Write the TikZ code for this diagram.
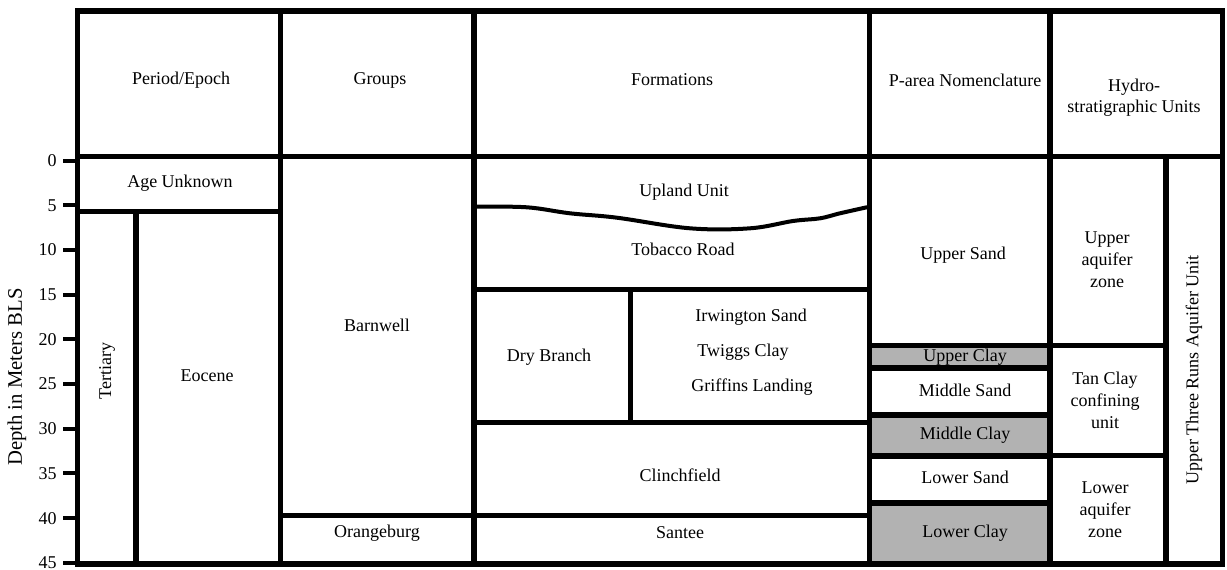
\documentclass[tikz,border=0pt]{standalone}
\usepackage{fontspec}
\setmainfont{Liberation Serif}
\definecolor{clay}{RGB}{178,178,178}
\tikzset{
  grid/.style={line width=3.8pt, line cap=butt},
  tick/.style={line width=3pt},
  lbl/.style={font=\fontsize{13.5pt}{16pt}\selectfont, inner sep=0pt, align=center},
  num/.style={font=\fontsize{13.5pt}{16pt}\selectfont, inner sep=0pt, anchor=east},
  wave/.style={line width=3pt, line cap=round, line join=round},
}
\begin{document}
\begin{tikzpicture}[x=0.75pt, y=-0.75pt]
\useasboundingbox (0,0) rectangle (1227,569);
% clay fills
\fill[clay] (869.5,345.5) rectangle (1050,368);
\fill[clay] (869.5,415) rectangle (1050,456);
\fill[clay] (869.5,503) rectangle (1050,564);
% outer frame
\draw[grid, line join=miter] (77.5,11) rectangle (1222.5,564);
% verticals
\draw[grid] (136,211.5) -- (136,564);
\draw[grid] (280.5,11) -- (280.5,564);
\draw[grid] (474,11) -- (474,564);
\draw[grid] (630.5,289.5) -- (630.5,422.5);
\draw[grid] (869.5,11) -- (869.5,564);
\draw[grid] (1050,11) -- (1050,564);
\draw[grid] (1166,156.5) -- (1166,564);
% horizontals
\draw[grid] (77.5,156.5) -- (1222.5,156.5);
\draw[grid] (77.5,211.5) -- (280.5,211.5);
\draw[grid] (474,289.5) -- (869.5,289.5);
\draw[grid] (474,422.5) -- (869.5,422.5);
\draw[grid] (280.5,515.5) -- (869.5,515.5);
\foreach \yy in {345.5,368,415,456,503}{\draw[grid] (869.5,\yy) -- (1050,\yy);}
\draw[grid] (1050,345.5) -- (1166,345.5);
\draw[grid] (1050,455.5) -- (1166,455.5);
% wavy contact
\draw[wave] plot[smooth, tension=0.6] coordinates {(477,206.7) (527,207.3) (570,213.3) (617,217.7) (690,228.3) (750,228.3) (793,221) (820,218.3) (840,213.3) (866.7,207.3)};
% depth axis
\foreach \d in {0,5,...,45}{
  \draw[tick] (63,{160.5+8.94*\d}) -- (77.5,{160.5+8.94*\d});
  \node[num] (n\d) at (57,{160.5+8.94*\d}) {\d};
}
\node[lbl, rotate=90, font=\fontsize{15.5pt}{18pt}\selectfont] (axis) at (17,377) {Depth in Meters BLS};
% headers
\node[lbl] (hpe) at (181,80) {Period/Epoch};
\node[lbl] (hgr) at (380,80) {Groups};
\node[lbl] (hfo) at (672,80) {Formations};
\node[lbl] (hpa) at (965,80) {P-area Nomenclature};
\node[lbl, font=\fontsize{13.5pt}{15.5pt}\selectfont] (hhy) at (1134,98) {Hydro-\\stratigraphic Units};
% period
\node[lbl] (age) at (180,183) {Age Unknown};
\node[lbl, rotate=90] (ter) at (107,371) {Tertiary};
\node[lbl] (eoc) at (207,376) {Eocene};
% groups
\node[lbl] (bar) at (377,325) {Barnwell};
\node[lbl] (ora) at (377,533) {Orangeburg};
% formations
\node[lbl] (upl) at (684,192) {Upland Unit};
\node[lbl] (tob) at (683,249) {Tobacco Road};
\node[lbl] (dry) at (549,357) {Dry Branch};
\node[lbl] (irw) at (751,317) {Irwington Sand};
\node[lbl] (twi) at (743,352) {Twiggs Clay};
\node[lbl] (gri) at (752,387) {Griffins Landing};
\node[lbl] (cli) at (680,475) {Clinchfield};
\node[lbl] (san) at (680,533) {Santee};
% p-area
\node[lbl] (usa) at (963,255) {Upper Sand};
\node[lbl] (ucl) at (965,357) {Upper Clay};
\node[lbl] (msa) at (965,390) {Middle Sand};
\node[lbl] (mcl) at (965,435) {Middle Clay};
\node[lbl] (lsa) at (965,477) {Lower Sand};
\node[lbl] (lcl) at (965,533) {Lower Clay};
% hydro
\node[lbl, font=\fontsize{13.5pt}{16.5pt}\selectfont] (uaz) at (1107,260) {Upper\\aquifer\\zone};
\node[lbl, font=\fontsize{13.5pt}{16.5pt}\selectfont] (tcc) at (1105,400) {Tan Clay\\confining\\unit};
\node[lbl, font=\fontsize{13.5pt}{16.5pt}\selectfont] (laz) at (1105,510) {Lower\\aquifer\\zone};
\node[lbl, rotate=90] (utr) at (1194,370) {Upper Three Runs Aquifer Unit};
\end{tikzpicture}
\end{document}
